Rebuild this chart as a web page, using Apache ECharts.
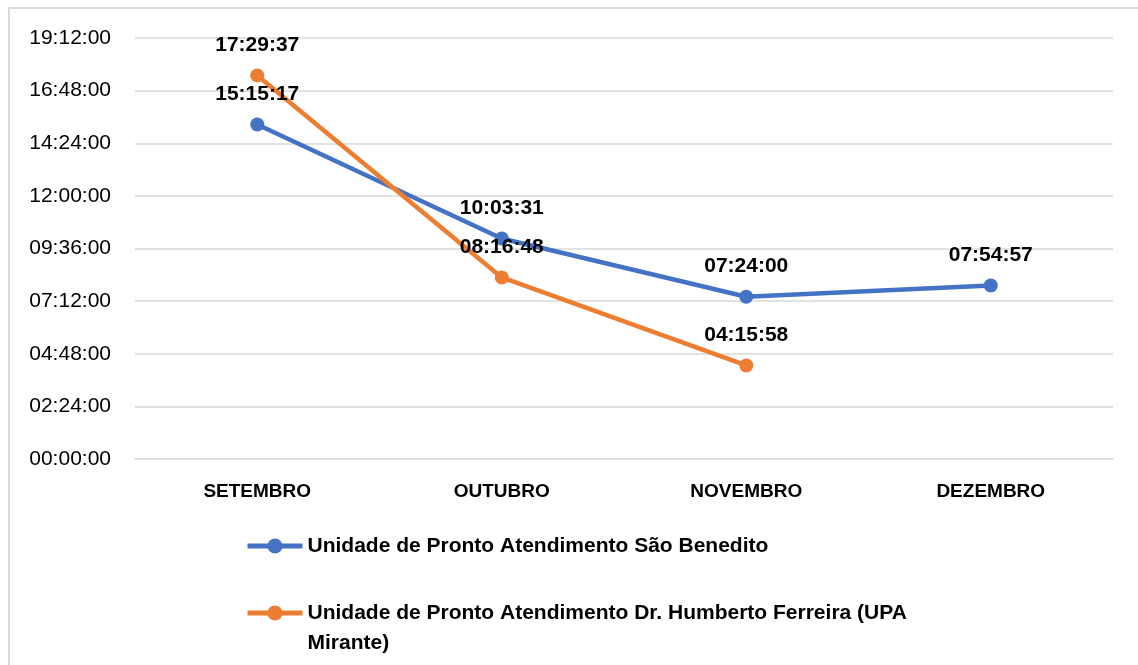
<!DOCTYPE html>
<html>
<head>
<meta charset="utf-8">
<script src="https://cdn.jsdelivr.net/npm/echarts@6/dist/echarts.min.js"></script>
<style>
  html, body { margin: 0; padding: 0; background: #fff; }
  #main { width: 1138px; height: 665px; }
</style>
</head>
<body>
<div id="main"></div>
<script>
// meses e tempos médios (em segundos)
const categorias = ['SETEMBRO', 'OUTUBRO', 'NOVEMBRO', 'DEZEMBRO'];
const nomeSaoBenedito = 'Unidade de Pronto Atendimento São Benedito';
const nomeMirante = 'Unidade de Pronto Atendimento Dr. Humberto Ferreira (UPA Mirante)';
const tempoSaoBenedito = ['15:15:17', '10:03:31', '07:24:00', '07:54:57'];
const tempoMirante = ['17:29:37', '08:16:48', '04:15:58', null];
const eixoMax = '19:12:00';
const eixoPasso = '02:24:00';

const paraSeg = (t) => {
  if (t === null) return null;
  const p = t.split(':').map(Number);
  return p[0] * 3600 + p[1] * 60 + p[2];
};
const paraHora = (s) => {
  const h = Math.floor(s / 3600);
  const m = Math.floor((s % 3600) / 60);
  const sec = Math.round(s % 60);
  return [h, m, sec].map((v) => String(v).padStart(2, '0')).join(':');
};

const fonte = '"Liberation Sans", Arial, sans-serif';
const myChart = echarts.init(document.getElementById('main'));

const rotulo = {
  show: true,
  position: 'top',
  distance: 13,
  color: '#000',
  fontWeight: 'bold',
  fontSize: 21,
  fontFamily: fonte,
  formatter: (p) => paraHora(p.value),
};

const option = {
  animation: false,
  backgroundColor: '#fff',
  graphic: [
    {
      type: 'rect',
      shape: { x: 9, y: 8, width: 1140, height: 700 },
      style: { fill: 'none', stroke: '#d9d9d9', lineWidth: 2 },
    },
  ],
  grid: { left: 135, right: 25, top: 38, bottom: 206 },
  legend: {
    orient: 'vertical',
    left: 240,
    top: 526,
    height: 500,
    itemWidth: 55,
    itemHeight: 19,
    itemGap: 7,
    lineStyle: { width: 5 },
    // linha vazia antes do nome para o ícone ficar na primeira linha do texto
    formatter: (name) => (name === nomeMirante ? '\n' + name : name),
    textStyle: {
      color: '#000',
      fontWeight: 'bold',
      fontSize: 21,
      fontFamily: fonte,
      lineHeight: 30,
      width: 640,
      overflow: 'break',
    },
    data: [nomeSaoBenedito, nomeMirante],
  },
  xAxis: {
    type: 'category',
    data: categorias,
    axisLine: { lineStyle: { color: '#d9d9d9', width: 1.5 } },
    axisTick: { show: false },
    axisLabel: {
      color: '#000',
      fontWeight: 'bold',
      fontSize: 19,
      fontFamily: fonte,
      margin: 23,
    },
  },
  yAxis: {
    type: 'value',
    min: 0,
    max: paraSeg(eixoMax),
    interval: paraSeg(eixoPasso),
    axisLine: { show: false },
    axisTick: { show: false },
    splitLine: { lineStyle: { color: '#d9d9d9', width: 1.5 } },
    axisLabel: {
      color: '#000',
      fontSize: 21,
      fontFamily: fonte,
      margin: 24,
      formatter: (v) => paraHora(v),
    },
  },
  series: [
    {
      name: nomeSaoBenedito,
      type: 'line',
      data: tempoSaoBenedito.map(paraSeg),
      color: '#4472C4',
      symbol: 'circle',
      symbolSize: 14,
      lineStyle: { width: 4.5 },
      label: rotulo,
    },
    {
      name: nomeMirante,
      type: 'line',
      data: tempoMirante.map(paraSeg),
      color: '#ED7D31',
      symbol: 'circle',
      symbolSize: 14,
      lineStyle: { width: 4.5 },
      label: rotulo,
    },
  ],
};

myChart.setOption(option);
</script>
</body>
</html>
